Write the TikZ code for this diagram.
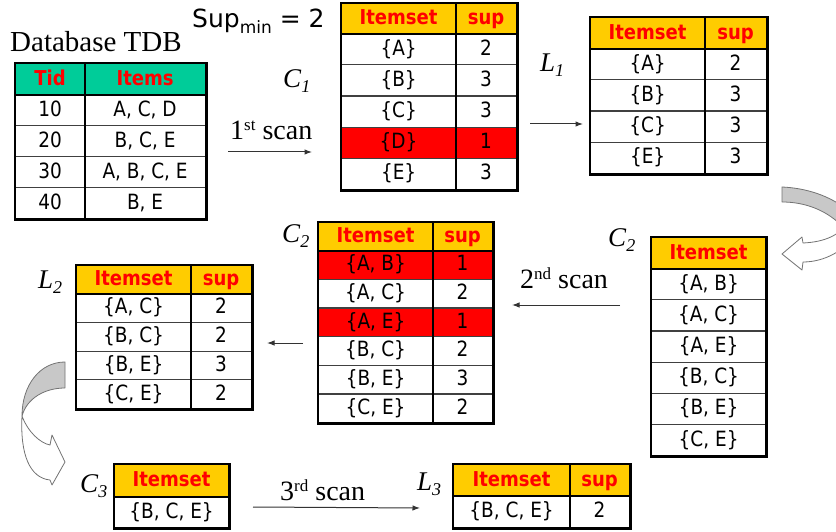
\documentclass[tikz,border=0pt]{standalone}
\usepackage{fontspec}
\setmainfont{Liberation Serif}
\newfontfamily\cellfam[FakeStretch=0.88]{DejaVu Sans}
\newfontfamily\supfam{DejaVu Sans}
\usetikzlibrary{arrows.meta}
\definecolor{hdryellow}{HTML}{FFCC00}
\definecolor{hdrgreen}{HTML}{00CC99}
\definecolor{badred}{HTML}{FF0000}
\definecolor{hdrtext}{HTML}{FF0000}
\definecolor{bendgray}{HTML}{C8C8C8}
\newcommand\cellfont{\cellfam\fontsize{21}{24}\selectfont}
\newcommand\headfont{\cellfam\bfseries\fontsize{20.5}{24}\selectfont}
\newcommand\tcell[7]{\node[cell,minimum width=#4pt,minimum height=#5pt,#6] (#1) at (#2,#3) {#7};}
\newcommand\symlab[2]{\textit{#1}\raisebox{-5pt}{\fontsize{18}{18}\selectfont\textit{#2}}}
\newcommand\ordlab[2]{#1\raisebox{9pt}{\fontsize{17}{17}\selectfont #2}}
\begin{document}
\begin{tikzpicture}[x=1pt,y=-1pt,
  cell/.style={draw=black!75,line width=1.2pt,inner sep=0pt,anchor=north west,font=\cellfont,text=black,fill=white,text height=15pt,text depth=3pt},
  hcell/.style={cell,font=\headfont,text=hdrtext,fill=hdryellow},
  badrow/.style={fill=badred},
  frame/.style={draw=black,line width=2.8pt},
  divider/.style={draw=black,line width=2.4pt},
  flow/.style={draw=black!80,line width=1pt,-{Latex[length=7.5pt,width=5.5pt]}},
  bendline/.style={draw=black!55,line width=0.8pt,line join=round},
  lab/.style={font=\fontsize{27}{30}\selectfont,inner sep=0pt,anchor=base west},
  ordtext/.style={font=\fontsize{28}{32}\selectfont,inner sep=0pt,anchor=base west},
]
\useasboundingbox (0,0) rectangle (836,532);

% ---------- texts ----------
\node[inner sep=0pt,anchor=base west,font=\fontsize{29}{32}\selectfont] (tdbtitle) at (10,52) {Database TDB};
\node[inner sep=0pt,anchor=base west,font=\supfam\fontsize{25}{28}\selectfont] (supmin) at (192,28)
  {Sup\raisebox{-6pt}{\fontsize{17}{17}\selectfont min} = 2};
\node[lab] (labC1) at (283,88) {\symlab{C}{1}};
\node[lab] (labL1) at (540,72) {\symlab{L}{1}};
\node[lab] (labC2r) at (608,247) {\symlab{C}{2}};
\node[lab] (labC2m) at (282,243) {\symlab{C}{2}};
\node[lab] (labL2) at (38,288) {\symlab{L}{2}};
\node[lab] (labC3) at (80,492) {\symlab{C}{3}};
\node[lab] (labL3) at (417,490) {\symlab{L}{3}};
\node[ordtext] (scan1) at (230,140) {\ordlab{1}{st} scan};
\node[ordtext] (scan2) at (520,288) {\ordlab{2}{nd} scan};
\node[ordtext] (scan3) at (280,500) {\ordlab{3}{rd} scan};

% ---------- TDB ----------
\tcell{th1}{15}{63}{69}{31}{hcell,fill=hdrgreen}{Tid}
\tcell{th2}{84}{63}{121}{31}{hcell,fill=hdrgreen}{Items}
\tcell{t1a}{15}{94}{69}{31}{}{10}
\tcell{t1b}{84}{94}{121}{31}{}{A, C, D}
\tcell{t2a}{15}{125}{69}{31}{}{20}
\tcell{t2b}{84}{125}{121}{31}{}{B, C, E}
\tcell{t3a}{15}{156}{69}{31}{}{30}
\tcell{t3b}{84}{156}{121}{31}{}{A, B, C, E}
\tcell{t4a}{15}{187}{69}{31}{}{40}
\tcell{t4b}{84}{187}{121}{31}{}{B, E}
\draw[divider] (th1.south west) -- (th2.south east);
\draw[divider] (th1.north east) -- (t4a.south east);
\draw[frame] (th1.north west) rectangle (t4b.south east);

% ---------- C1 ----------
\tcell{ch1}{341}{3}{114}{30}{hcell}{Itemset}
\tcell{ch2}{455}{3}{61}{30}{hcell}{sup}
\tcell{c1a}{341}{33}{114}{31.2}{}{\{A\}}
\tcell{c1b}{455}{33}{61}{31.2}{}{2}
\tcell{c2a}{341}{64.2}{114}{31.2}{}{\{B\}}
\tcell{c2b}{455}{64.2}{61}{31.2}{}{3}
\tcell{c3a}{341}{95.4}{114}{31.2}{}{\{C\}}
\tcell{c3b}{455}{95.4}{61}{31.2}{}{3}
\tcell{c4a}{341}{126.6}{114}{31.2}{badrow}{\{D\}}
\tcell{c4b}{455}{126.6}{61}{31.2}{badrow}{1}
\tcell{c5a}{341}{157.8}{114}{31.2}{}{\{E\}}
\tcell{c5b}{455}{157.8}{61}{31.2}{}{3}
\draw[divider] (ch1.south west) -- (ch2.south east);
\draw[divider] (ch1.north east) -- (c5a.south east);
\draw[frame] (ch1.north west) rectangle (c5b.south east);

% ---------- L1 ----------
\tcell{lh1}{590}{17}{114}{31}{hcell}{Itemset}
\tcell{lh2}{704}{17}{62}{31}{hcell}{sup}
\tcell{l1a}{590}{48}{114}{31.25}{}{\{A\}}
\tcell{l1b}{704}{48}{62}{31.25}{}{2}
\tcell{l2a}{590}{79.25}{114}{31.25}{}{\{B\}}
\tcell{l2b}{704}{79.25}{62}{31.25}{}{3}
\tcell{l3a}{590}{110.5}{114}{31.25}{}{\{C\}}
\tcell{l3b}{704}{110.5}{62}{31.25}{}{3}
\tcell{l4a}{590}{141.75}{114}{31.25}{}{\{E\}}
\tcell{l4b}{704}{141.75}{62}{31.25}{}{3}
\draw[divider] (lh1.south west) -- (lh2.south east);
\draw[divider] (lh1.north east) -- (l4a.south east);
\draw[frame] (lh1.north west) rectangle (l4b.south east);

% ---------- C2 (candidates) ----------
\tcell{rh1}{651}{237}{114}{31}{hcell}{Itemset}
\tcell{r1}{651}{268}{114}{31.17}{}{\{A, B\}}
\tcell{r2}{651}{299.17}{114}{31.17}{}{\{A, C\}}
\tcell{r3}{651}{330.33}{114}{31.17}{}{\{A, E\}}
\tcell{r4}{651}{361.5}{114}{31.17}{}{\{B, C\}}
\tcell{r5}{651}{392.67}{114}{31.17}{}{\{B, E\}}
\tcell{r6}{651}{423.83}{114}{31.17}{}{\{C, E\}}
\draw[divider] (rh1.south west) -- (rh1.south east);
\draw[frame] (rh1.north west) rectangle (r6.south east);

% ---------- C2 (counted) ----------
\tcell{mh1}{318}{222}{114}{28}{hcell}{Itemset}
\tcell{mh2}{432}{222}{60}{28}{hcell}{sup}
\tcell{m1a}{318}{250}{114}{28.67}{badrow}{\{A, B\}}
\tcell{m1b}{432}{250}{60}{28.67}{badrow}{1}
\tcell{m2a}{318}{278.67}{114}{28.67}{}{\{A, C\}}
\tcell{m2b}{432}{278.67}{60}{28.67}{}{2}
\tcell{m3a}{318}{307.33}{114}{28.67}{badrow}{\{A, E\}}
\tcell{m3b}{432}{307.33}{60}{28.67}{badrow}{1}
\tcell{m4a}{318}{336}{114}{28.67}{}{\{B, C\}}
\tcell{m4b}{432}{336}{60}{28.67}{}{2}
\tcell{m5a}{318}{364.67}{114}{28.67}{}{\{B, E\}}
\tcell{m5b}{432}{364.67}{60}{28.67}{}{3}
\tcell{m6a}{318}{393.33}{114}{28.67}{}{\{C, E\}}
\tcell{m6b}{432}{393.33}{60}{28.67}{}{2}
\draw[divider] (mh1.south west) -- (mh2.south east);
\draw[divider] (mh1.north east) -- (m6a.south east);
\draw[frame] (mh1.north west) rectangle (m6b.south east);

% ---------- L2 ----------
\tcell{nh1}{76}{265}{114}{28}{hcell}{Itemset}
\tcell{nh2}{190}{265}{61}{28}{hcell}{sup}
\tcell{n1a}{76}{293}{114}{28.75}{}{\{A, C\}}
\tcell{n1b}{190}{293}{61}{28.75}{}{2}
\tcell{n2a}{76}{321.75}{114}{28.75}{}{\{B, C\}}
\tcell{n2b}{190}{321.75}{61}{28.75}{}{2}
\tcell{n3a}{76}{350.5}{114}{28.75}{}{\{B, E\}}
\tcell{n3b}{190}{350.5}{61}{28.75}{}{3}
\tcell{n4a}{76}{379.25}{114}{28.75}{}{\{C, E\}}
\tcell{n4b}{190}{379.25}{61}{28.75}{}{2}
\draw[divider] (nh1.south west) -- (nh2.south east);
\draw[divider] (nh1.north east) -- (n4a.south east);
\draw[frame] (nh1.north west) rectangle (n4b.south east);

% ---------- C3 ----------
\tcell{ph1}{114}{464}{114}{32}{hcell}{Itemset}
\tcell{p1}{114}{496}{114}{31}{}{\{B, C, E\}}
\draw[divider] (ph1.south west) -- (ph1.south east);
\draw[frame] (ph1.north west) rectangle (p1.south east);

% ---------- L3 ----------
\tcell{qh1}{453}{464}{116}{31}{hcell}{Itemset}
\tcell{qh2}{569}{464}{60}{31}{hcell}{sup}
\tcell{q1a}{453}{495}{116}{32}{}{\{B, C, E\}}
\tcell{q1b}{569}{495}{60}{32}{}{2}
\draw[divider] (qh1.south west) -- (qh2.south east);
\draw[divider] (qh1.north east) -- (q1a.south east);
\draw[frame] (qh1.north west) rectangle (q1b.south east);

% ---------- straight arrows ----------
\coordinate (s1a) at (228,152); \coordinate (s1b) at (312,152);
\coordinate (s2a) at (530,124); \coordinate (s2b) at (583,124);
\coordinate (s3a) at (620,305); \coordinate (s3b) at (512,305);
\coordinate (s4a) at (303,343); \coordinate (s4b) at (267,343);
\coordinate (s5a) at (253,507); \coordinate (s5b) at (420,508);
\draw[flow] (s1a) -- (s1b);
\draw[flow] (s2a) -- (s2b);
\draw[flow] (s3a) -- (s3b);
\draw[flow] (s4a) -- (s4b);
\draw[flow] (s5a) -- (s5b);

% ---------- curved block arrows ----------
% right one (L1 -> C2)
\draw[bendline,fill=bendgray] (782,187) .. controls (805,188) and (830,195) .. (850,212)
  -- (850,232) -- (840,224) .. controls (825,210) and (805,202) .. (782,202) -- cycle;
\draw[bendline,fill=white] (848,222) .. controls (840,235) and (825,242) .. (803,243)
  -- (802,237) -- (782,254) -- (802,270) -- (803,262)
  .. controls (825,262) and (845,250) .. (855,235) -- cycle;
% left one (L2 -> C3)
\draw[bendline,fill=bendgray] (65,362) -- (65,388) .. controls (45,388) and (27,398) .. (22,416)
  .. controls (22,385) and (40,362) .. (65,362) -- cycle;
\draw[bendline,fill=white] (22,416) .. controls (28,432) and (40,443) .. (50,445)
  -- (52,435) -- (65,462) -- (52,485) -- (50,480)
  .. controls (30,478) and (20,455) .. (22,416) -- cycle;
\end{tikzpicture}
\end{document}
